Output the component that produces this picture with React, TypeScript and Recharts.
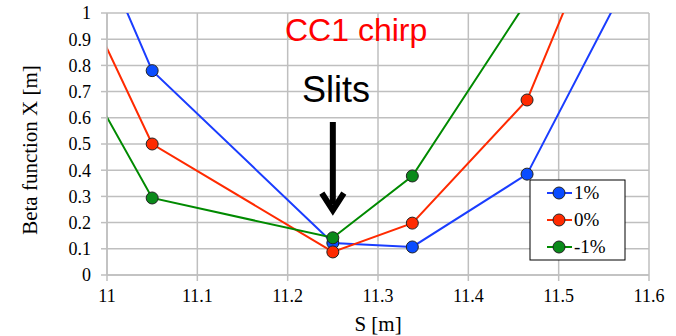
import { LineChart, Line, XAxis, YAxis, CartesianGrid, ReferenceLine, ReferenceDot } from 'recharts'

// S positions along the beamline (outer points lie beyond the plotted window)
const sPositions = [10.95, 11.05, 11.25, 11.338, 11.465, 11.6]
const betaPlus1 = [1.58, 0.78, 0.122, 0.107, 0.385, 1.28]
const betaZero = [1.23, 0.5, 0.088, 0.198, 0.668, 1.79]
const betaMinus1 = [0.91, 0.294, 0.142, 0.378, 1.046, 1.8]

const xTicks = [11, 11.1, 11.2, 11.3, 11.4, 11.5, 11.6]
const yTicks = [0, 0.1, 0.2, 0.3, 0.4, 0.5, 0.6, 0.7, 0.8, 0.9, 1]

const series = [
  { key: 'p1', name: '1%', values: betaPlus1, line: '#1a3dff', fill: '#0a4cff' },
  { key: 'z0', name: '0%', values: betaZero, line: '#ff2a00', fill: '#ff2a00' },
  { key: 'm1', name: '-1%', values: betaMinus1, line: '#008a00', fill: '#0a8a1a' },
]

const data = sPositions.map((s, i) => {
  const row: Record<string, number> = { s }
  series.forEach(sr => { row[sr.key] = sr.values[i] })
  return row
})

const GRID = '#bfbfbf'
const SERIF = '"Liberation Serif", "Times New Roman", serif'
const SANS = '"Liberation Sans", Arial, sans-serif'

// downward arrowhead drawn at the tip of the slit marker
const ArrowHead = (props: any) => {
  const { cx, cy } = props
  return (
    <polyline
      points={`${cx - 11},${cy - 19} ${cx},${cy - 2} ${cx + 11},${cy - 19}`}
      fill="none" stroke="#000" strokeWidth={6} strokeLinejoin="miter"
    />
  )
}

export default function App() {
  return (
    <div style={{ position: 'absolute', left: 0, top: 0, width: 676, height: 336, background: '#fff' }}>
      <LineChart width={676} height={336} data={data} margin={{ top: 13, right: 27, bottom: 0, left: 0 }}>
        <CartesianGrid stroke={GRID} strokeWidth={1.5} />
        <XAxis
          dataKey="s" type="number" domain={[11, 11.6]} ticks={xTicks} allowDataOverflow
          height={61} tickSize={6} tickMargin={8}
          axisLine={{ stroke: GRID, strokeWidth: 1.5 }} tickLine={{ stroke: GRID, strokeWidth: 1.5 }}
          tick={{ fill: '#000', fontSize: 18, fontFamily: SERIF }}
          tickFormatter={(v: number) => String(v)}
        />
        <YAxis
          type="number" domain={[0, 1]} ticks={yTicks} allowDataOverflow
          width={107} tickSize={6} tickMargin={10}
          axisLine={{ stroke: GRID, strokeWidth: 1.5 }} tickLine={{ stroke: GRID, strokeWidth: 1.5 }}
          tick={{ fill: '#000', fontSize: 18, fontFamily: SERIF }}
          tickFormatter={(v: number) => String(v)}
        />

        {/* Slits marker: shaft + head */}
        <ReferenceLine segment={[{ x: 11.25, y: 0.584 }, { x: 11.25, y: 0.27 }]} stroke="#000" strokeWidth={6} ifOverflow="visible" />
        <ReferenceDot x={11.25} y={0.24} r={0} shape={ArrowHead} ifOverflow="visible" />

        {series.map(sr => (
          <Line
            key={sr.key} dataKey={sr.key} name={sr.name} type="linear"
            stroke={sr.line} strokeWidth={2}
            dot={{ r: 6, fill: sr.fill, stroke: '#222', strokeWidth: 1 }}
            isAnimationActive={false}
          />
        ))}

        <text x={285} y={41} fill="#ff0000" fontSize={32} fontFamily={SANS}>CC1 chirp</text>
        <text x={302} y={102} fill="#000" fontSize={36} fontFamily={SANS}>Slits</text>
        <text x={378} y={331} textAnchor="middle" fill="#000" fontSize={21} fontFamily={SERIF}>S [m]</text>
        <text
          x={37} y={150} textAnchor="middle" fill="#000" fontSize={21} fontFamily={SERIF}
          transform="rotate(-90 37 150)"
        >
          Beta function X [m]
        </text>

        {/* legend box */}
        <g>
          <rect x={530} y={180} width={95} height={80} fill="#fff" stroke="#000" strokeWidth={1} />
          {series.map((sr, i) => (
            <g key={sr.key}>
              <line x1={547} x2={572} y1={193 + i * 27} y2={193 + i * 27} stroke={sr.line} strokeWidth={2} />
              <circle cx={559} cy={193 + i * 27} r={6} fill={sr.fill} stroke="#222" strokeWidth={1} />
              <text x={574} y={199 + i * 27} fill="#000" fontSize={19} fontFamily={SERIF}>{sr.name}</text>
            </g>
          ))}
        </g>
      </LineChart>
    </div>
  )
}
